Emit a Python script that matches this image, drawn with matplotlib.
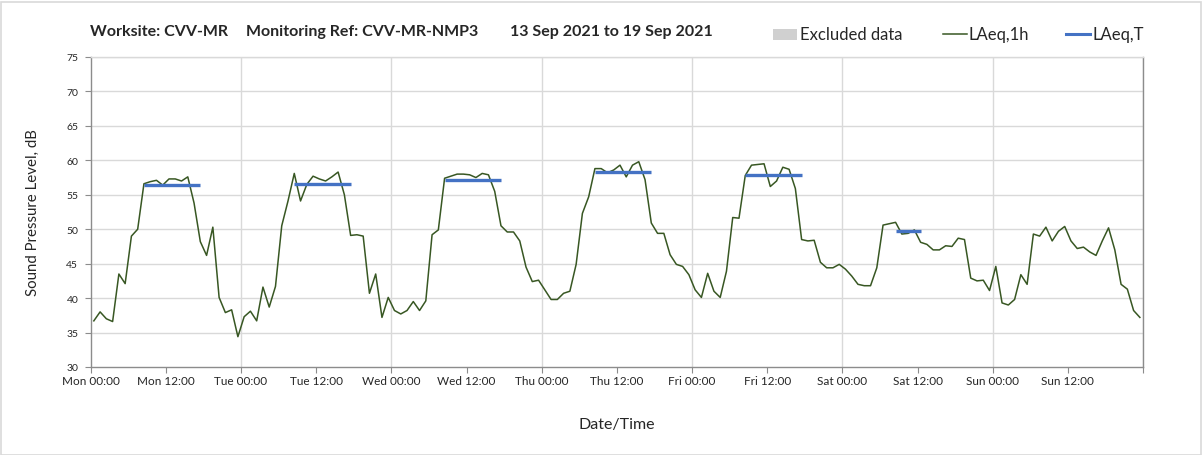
import matplotlib
matplotlib.use("Agg")
import matplotlib.pyplot as plt
import numpy as np
from matplotlib.lines import Line2D
from matplotlib.patches import Rectangle

plt.rcParams['font.family'] = ['Lato', 'DejaVu Sans']

# Hourly LAeq,1h values (dB), one list per day, hour 00..23
mon = [36.7, 38.0, 37.0, 36.6, 43.5, 42.1, 49.0, 50.0, 56.6, 56.9, 57.1, 56.4,
       57.3, 57.3, 57.0, 57.6, 53.8, 48.2, 46.2, 50.3, 40.1, 37.9, 38.3, 34.4]
tue = [37.3, 38.1, 36.7, 41.6, 38.7, 41.7, 50.5, 54.1, 58.1, 54.1, 56.5, 57.7,
       57.3, 57.0, 57.6, 58.3, 55.0, 49.1, 49.2, 49.0, 40.7, 43.5, 37.2, 40.1]
wed = [38.2, 37.7, 38.2, 39.5, 38.2, 39.6, 49.2, 49.9, 57.4, 57.7, 58.0, 58.0,
       57.9, 57.5, 58.1, 57.9, 55.5, 50.5, 49.6, 49.6, 48.3, 44.5, 42.4, 42.6]
thu = [41.2, 39.8, 39.8, 40.7, 41.0, 44.9, 52.3, 54.7, 58.8, 58.8, 58.2, 58.6,
       59.3, 57.6, 59.3, 59.8, 57.2, 50.9, 49.4, 49.4, 46.3, 44.9, 44.6, 43.4]
fri = [41.2, 40.1, 43.6, 41.0, 40.1, 43.9, 51.7, 51.6, 57.8, 59.3, 59.4, 59.5,
       56.2, 57.0, 59.0, 58.7, 55.9, 48.5, 48.3, 48.4, 45.2, 44.4, 44.4, 44.9]
sat = [44.2, 43.2, 42.0, 41.8, 41.8, 44.4, 50.6, 50.8, 51.0, 49.3, 49.4, 49.9,
       48.1, 47.8, 47.0, 47.0, 47.6, 47.5, 48.7, 48.5, 42.9, 42.5, 42.6, 41.1]
sun = [44.6, 39.3, 39.0, 39.8, 43.4, 42.0, 49.3, 49.0, 50.3, 48.3, 49.7, 50.4,
       48.3, 47.2, 47.4, 46.7, 46.2, 48.3, 50.2, 47.0, 42.0, 41.3, 38.2, 37.2]

# LAeq,T daytime periods: day index, first hour, last hour, level (dB)
laeqT_day = [0, 1, 2, 3, 4, 5]
laeqT_first_hour = [8, 8, 8, 8, 8, 8]
laeqT_last_hour = [17, 17, 17, 17, 17, 12]
laeqT_level = [56.4, 56.6, 57.2, 58.3, 57.9, 49.7]

day_names = ['Mon', 'Tue', 'Wed', 'Thu', 'Fri', 'Sat', 'Sun']
y_ticks = [30, 35, 40, 45, 50, 55, 60, 65, 70, 75]

title_parts = ['Worksite: CVV-MR', 'Monitoring Ref: CVV-MR-NMP3', '13 Sep 2021 to 19 Sep 2021']

# ---------------------------------------------------------------
W, H = 1203, 456
fig = plt.figure(figsize=(W / 100, H / 100), dpi=100)
ax = fig.add_axes([90.7 / W, 1 - 368 / H, (1143 - 90.7) / W, (368 - 58) / H])

levels = np.array(mon + tue + wed + thu + fri + sat + sun)
hours = np.arange(len(levels)) + 0.5

grid_c = '#d9d9d9'
axis_c = '#8c8c8c'
green = '#385723'
blue = '#4472c4'
text_c = '#262626'

for y in y_ticks[1:]:
    ax.axhline(y, color=grid_c, lw=1.0, zorder=0)
for d in range(1, 8):
    ax.axvline(d * 24, color=grid_c, lw=1.0, zorder=0)

ax.plot(hours, levels, color=green, lw=1.1, zorder=3)
for d, h0, h1, lv in zip(laeqT_day, laeqT_first_hour, laeqT_last_hour, laeqT_level):
    ax.plot([d * 24 + h0 + 0.5, d * 24 + h1 + 0.5], [lv, lv], color=blue, lw=2.4,
            solid_capstyle='butt', zorder=4)

ax.set_xlim(0, 168)
ax.set_ylim(30, 75)
ax.set_yticks(y_ticks)
ax.set_yticklabels([str(v) for v in y_ticks], fontsize=7.5)
xt = np.arange(0, 169, 12)
ax.set_xticks(xt)
xl = []
for t in xt:
    d = int(t // 24)
    if d < 7:
        xl.append(f"{day_names[d]} {int(t % 24):02d}:00")
    else:
        xl.append('')
ax.set_xticklabels(xl, fontsize=8.5)
ax.tick_params(axis='x', colors=axis_c, labelcolor=text_c, length=4, width=0.8, pad=2)
ax.tick_params(axis='y', colors=axis_c, labelcolor=text_c, length=4, width=0.8, pad=5)

for s in ['left', 'bottom', 'right']:
    ax.spines[s].set_color(axis_c)
    ax.spines[s].set_linewidth(1.0)
ax.spines['top'].set_color(grid_c)
ax.spines['top'].set_linewidth(1.0)

ax.set_ylabel('Sound Pressure Level, dB', fontsize=10.8, color=text_c, labelpad=19)
ax.set_xlabel('Date/Time', fontsize=11.5, color=text_c, labelpad=22)

# Title
title_x = [90, 246, 510]
for tx, s in zip(title_x, title_parts):
    fig.text(tx / W, 1 - 32 / H, s, fontsize=11.5, fontweight='bold', color=text_c,
             va='center', ha='left')

# Legend (manual)
ly = 1 - 35 / H
fig.add_artist(Rectangle((773 / W, 1 - 41 / H), 24 / W, 11 / H, transform=fig.transFigure,
                         facecolor='#d0d0d0', edgecolor='none'))
fig.text(800 / W, ly, 'Excluded data', fontsize=12, color=text_c, va='center', ha='left')
fig.add_artist(Line2D([943 / W, 967 / W], [ly, ly], transform=fig.transFigure, color=green, lw=1.1))
fig.text(969 / W, ly, 'LAeq,1h', fontsize=12, color=text_c, va='center', ha='left')
fig.add_artist(Line2D([1066 / W, 1090 / W], [ly, ly], transform=fig.transFigure, color=blue, lw=2.2))
fig.text(1092 / W, ly, 'LAeq,T', fontsize=12, color=text_c, va='center', ha='left')

# outer border
fig.add_artist(Rectangle((0.5 / W, 0.5 / H), (W - 3) / W, (H - 3) / H, transform=fig.transFigure,
                         facecolor='none', edgecolor='#d9d9d9', lw=1.2))

fig.savefig('out.png', dpi=100)
